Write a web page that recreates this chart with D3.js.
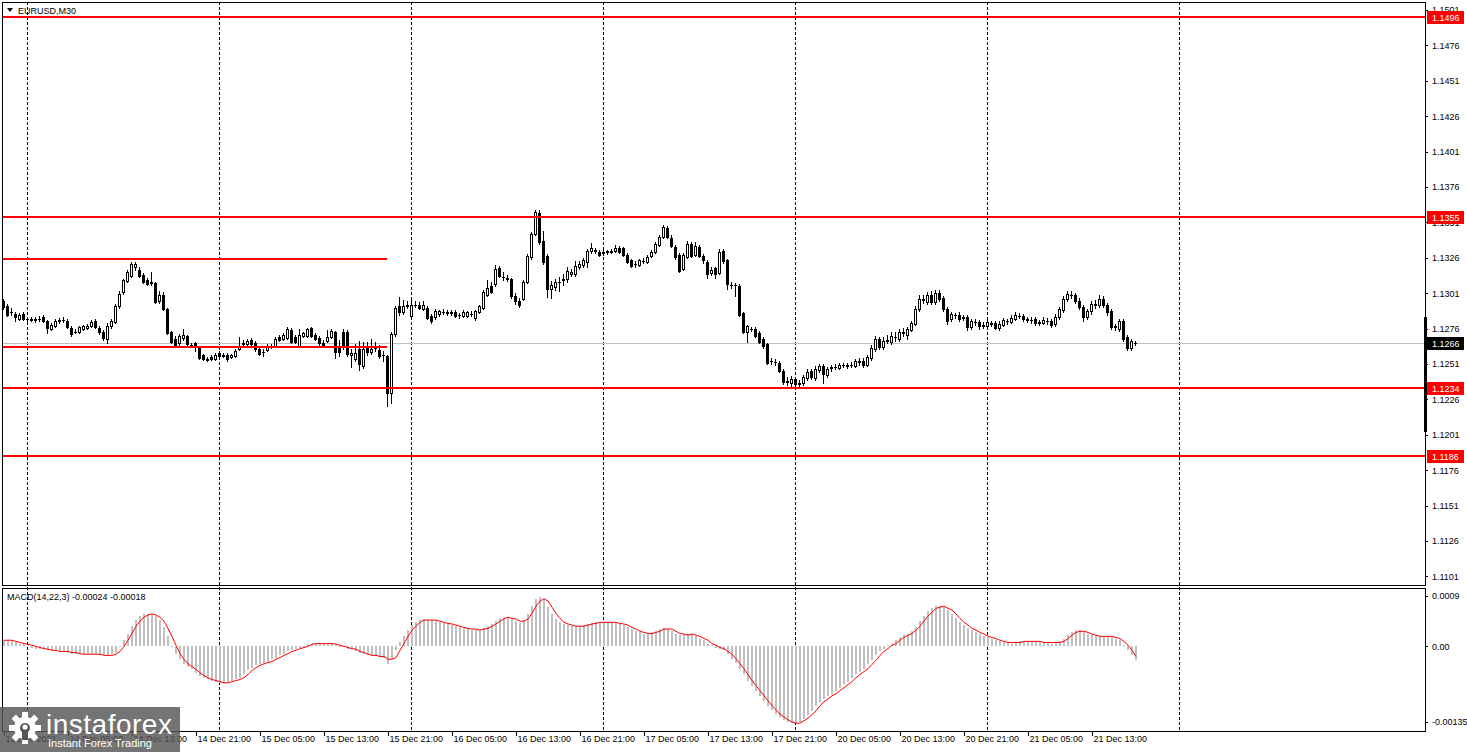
<!DOCTYPE html>
<html><head><meta charset="utf-8">
<script src="https://cdn.jsdelivr.net/npm/d3@7"></script>
<style>html,body{margin:0;padding:0;background:#fff;overflow:hidden}svg{display:block}</style>
</head><body><svg id="c" width="1467" height="752"></svg>
<script>
// ---- DATA (EURUSD M30, 13 Dec 21:00 .. 21 Dec 2021) ----
const open=[1.12957,1.12922,1.12879,1.12865,1.12830,1.12865,1.12830,1.12830,1.12823,1.12830,
1.12844,1.12816,1.12759,1.12780,1.12816,1.12823,1.12816,1.12766,1.12738,1.12738,
1.12759,1.12766,1.12780,1.12816,1.12766,1.12738,1.12689,1.12780,1.12809,1.12922,
1.13020,1.13098,1.13133,1.13197,1.13176,1.13140,1.13105,1.13091,1.13084,1.12957,
1.12999,1.12900,1.12738,1.12689,1.12660,1.12696,1.12710,1.12646,1.12660,1.12625,
1.12576,1.12547,1.12562,1.12547,1.12590,1.12576,1.12576,1.12562,1.12569,1.12618,
1.12653,1.12653,1.12682,1.12660,1.12618,1.12597,1.12611,1.12639,1.12639,1.12703,
1.12689,1.12696,1.12752,1.12703,1.12639,1.12710,1.12710,1.12766,1.12717,1.12696,
1.12660,1.12675,1.12703,1.12738,1.12639,1.12738,1.12738,1.12576,1.12547,1.12618,
1.12498,1.12625,1.12597,1.12625,1.12611,1.12576,1.12569,1.12307,1.12724,1.12922,
1.12879,1.12922,1.12851,1.12929,1.12929,1.12900,1.12907,1.12851,1.12844,1.12865,
1.12879,1.12879,1.12872,1.12879,1.12858,1.12851,1.12851,1.12865,1.12837,1.12879,
1.12907,1.12999,1.13063,1.13077,1.13190,1.13126,1.13119,1.13112,1.12992,1.12957,
1.12971,1.13091,1.13268,1.13430,1.13578,1.13380,1.13275,1.13042,1.13056,1.13091,
1.13105,1.13112,1.13148,1.13148,1.13197,1.13211,1.13232,1.13310,1.13317,1.13303,
1.13296,1.13303,1.13303,1.13310,1.13331,1.13331,1.13282,1.13246,1.13218,1.13211,
1.13239,1.13232,1.13275,1.13303,1.13352,1.13409,1.13472,1.13402,1.13338,1.13282,
1.13183,1.13268,1.13359,1.13282,1.13338,1.13275,1.13232,1.13155,1.13190,1.13155,
1.13310,1.13246,1.13070,1.13070,1.13063,1.12872,1.12738,1.12759,1.12759,1.12731,
1.12689,1.12653,1.12533,1.12526,1.12519,1.12463,1.12385,1.12378,1.12406,1.12371,
1.12378,1.12413,1.12463,1.12413,1.12470,1.12498,1.12434,1.12484,1.12491,1.12484,
1.12505,1.12498,1.12505,1.12498,1.12533,1.12533,1.12505,1.12554,1.12618,1.12689,
1.12632,1.12675,1.12667,1.12703,1.12689,1.12738,1.12717,1.12752,1.12794,1.12900,
1.12971,1.12950,1.12999,1.12950,1.13013,1.12978,1.12900,1.12830,1.12858,1.12858,
1.12837,1.12844,1.12773,1.12809,1.12809,1.12780,1.12780,1.12802,1.12802,1.12766,
1.12787,1.12816,1.12809,1.12830,1.12851,1.12851,1.12830,1.12823,1.12830,1.12802,
1.12802,1.12816,1.12816,1.12794,1.12844,1.12893,1.12971,1.12999,1.12999,1.12957,
1.12915,1.12844,1.12886,1.12936,1.12929,1.12971,1.12929,1.12886,1.12773,1.12759,
1.12816,1.12703,1.12625,1.12660];
const high=[1.12971,1.12936,1.12907,1.12879,1.12872,1.12879,1.12844,1.12844,1.12844,1.12851,
1.12858,1.12823,1.12802,1.12830,1.12837,1.12844,1.12830,1.12780,1.12759,1.12780,
1.12787,1.12794,1.12823,1.12830,1.12780,1.12752,1.12802,1.12830,1.12936,1.13028,
1.13112,1.13176,1.13232,1.13232,1.13197,1.13155,1.13119,1.13162,1.13091,1.13028,
1.13020,1.12907,1.12745,1.12710,1.12724,1.12759,1.12717,1.12660,1.12667,1.12639,
1.12583,1.12562,1.12576,1.12590,1.12604,1.12590,1.12590,1.12583,1.12618,1.12703,
1.12682,1.12689,1.12696,1.12675,1.12625,1.12618,1.12653,1.12653,1.12703,1.12717,
1.12731,1.12773,1.12766,1.12717,1.12759,1.12738,1.12766,1.12773,1.12731,1.12710,
1.12682,1.12752,1.12759,1.12745,1.12682,1.12759,1.12752,1.12618,1.12653,1.12675,
1.12667,1.12667,1.12689,1.12667,1.12646,1.12604,1.12576,1.12738,1.12922,1.12985,
1.12964,1.12957,1.12985,1.12957,1.12950,1.12957,1.12922,1.12865,1.12900,1.12893,
1.12900,1.12893,1.12893,1.12893,1.12872,1.12893,1.12886,1.12886,1.12893,1.12929,
1.13035,1.13105,1.13091,1.13211,1.13204,1.13162,1.13140,1.13119,1.13013,1.12978,
1.13105,1.13289,1.13444,1.13599,1.13599,1.13451,1.13289,1.13098,1.13112,1.13126,
1.13148,1.13197,1.13183,1.13239,1.13239,1.13260,1.13324,1.13366,1.13331,1.13317,
1.13317,1.13317,1.13324,1.13352,1.13345,1.13338,1.13296,1.13253,1.13239,1.13253,
1.13260,1.13282,1.13317,1.13373,1.13423,1.13493,1.13486,1.13423,1.13352,1.13296,
1.13296,1.13380,1.13373,1.13373,1.13352,1.13289,1.13246,1.13197,1.13197,1.13324,
1.13324,1.13253,1.13091,1.13084,1.13077,1.12879,1.12787,1.12773,1.12773,1.12745,
1.12703,1.12660,1.12554,1.12547,1.12533,1.12477,1.12420,1.12427,1.12420,1.12399,
1.12434,1.12477,1.12477,1.12498,1.12512,1.12512,1.12491,1.12505,1.12512,1.12519,
1.12519,1.12519,1.12526,1.12547,1.12554,1.12554,1.12576,1.12646,1.12710,1.12703,
1.12703,1.12717,1.12738,1.12738,1.12759,1.12766,1.12773,1.12816,1.12922,1.12999,
1.12999,1.13020,1.13028,1.13035,1.13035,1.12992,1.12915,1.12879,1.12872,1.12879,
1.12858,1.12858,1.12830,1.12830,1.12823,1.12809,1.12823,1.12816,1.12816,1.12816,
1.12837,1.12830,1.12858,1.12879,1.12872,1.12865,1.12844,1.12844,1.12844,1.12823,
1.12844,1.12837,1.12830,1.12865,1.12915,1.12992,1.13028,1.13028,1.13013,1.12978,
1.12929,1.12900,1.12957,1.12964,1.12999,1.12992,1.12943,1.12900,1.12794,1.12830,
1.12830,1.12717,1.12689,1.12675];
const low=[1.12900,1.12851,1.12858,1.12816,1.12823,1.12823,1.12816,1.12816,1.12809,1.12816,
1.12809,1.12731,1.12752,1.12773,1.12802,1.12809,1.12766,1.12710,1.12731,1.12731,
1.12752,1.12759,1.12773,1.12766,1.12724,1.12682,1.12660,1.12766,1.12802,1.12907,
1.13006,1.13091,1.13126,1.13176,1.13126,1.13084,1.13070,1.13070,1.12943,1.12943,
1.12893,1.12724,1.12660,1.12632,1.12639,1.12682,1.12646,1.12632,1.12604,1.12547,
1.12540,1.12533,1.12540,1.12540,1.12562,1.12562,1.12533,1.12554,1.12562,1.12611,
1.12639,1.12646,1.12646,1.12604,1.12576,1.12569,1.12604,1.12625,1.12632,1.12675,
1.12682,1.12689,1.12660,1.12660,1.12632,1.12703,1.12703,1.12703,1.12682,1.12639,
1.12632,1.12667,1.12696,1.12554,1.12569,1.12618,1.12569,1.12491,1.12533,1.12470,
1.12484,1.12576,1.12583,1.12604,1.12554,1.12533,1.12215,1.12237,1.12710,1.12858,
1.12865,1.12907,1.12844,1.12915,1.12900,1.12893,1.12830,1.12802,1.12830,1.12851,
1.12865,1.12858,1.12858,1.12844,1.12837,1.12844,1.12844,1.12851,1.12823,1.12872,
1.12900,1.12992,1.13013,1.13063,1.13126,1.13105,1.13098,1.12978,1.12936,1.12915,
1.12964,1.13084,1.13253,1.13423,1.13359,1.13218,1.12985,1.12978,1.13035,1.13028,
1.13070,1.13091,1.13133,1.13133,1.13183,1.13197,1.13197,1.13296,1.13296,1.13275,
1.13282,1.13289,1.13296,1.13303,1.13296,1.13275,1.13225,1.13197,1.13197,1.13204,
1.13225,1.13225,1.13268,1.13296,1.13345,1.13402,1.13402,1.13338,1.13253,1.13162,
1.13176,1.13260,1.13268,1.13275,1.13268,1.13225,1.13119,1.13140,1.13119,1.13148,
1.13225,1.13042,1.13049,1.12992,1.12851,1.12731,1.12667,1.12745,1.12703,1.12660,
1.12625,1.12512,1.12512,1.12505,1.12456,1.12371,1.12364,1.12357,1.12357,1.12350,
1.12364,1.12399,1.12406,1.12399,1.12456,1.12378,1.12420,1.12463,1.12477,1.12477,
1.12491,1.12484,1.12491,1.12491,1.12505,1.12491,1.12498,1.12540,1.12604,1.12618,
1.12618,1.12660,1.12653,1.12675,1.12675,1.12710,1.12689,1.12745,1.12787,1.12886,
1.12943,1.12936,1.12936,1.12936,1.12957,1.12886,1.12794,1.12816,1.12837,1.12816,
1.12823,1.12752,1.12759,1.12787,1.12759,1.12766,1.12766,1.12780,1.12759,1.12752,
1.12780,1.12794,1.12802,1.12823,1.12837,1.12816,1.12809,1.12802,1.12787,1.12787,
1.12794,1.12794,1.12773,1.12780,1.12830,1.12879,1.12957,1.12978,1.12943,1.12900,
1.12816,1.12830,1.12865,1.12907,1.12915,1.12915,1.12858,1.12759,1.12752,1.12745,
1.12675,1.12611,1.12611,1.12646];
const close=[1.12915,1.12858,1.12879,1.12844,1.12858,1.12830,1.12830,1.12823,1.12830,1.12830,
1.12816,1.12766,1.12787,1.12816,1.12823,1.12823,1.12773,1.12724,1.12738,1.12773,
1.12780,1.12780,1.12809,1.12773,1.12738,1.12696,1.12780,1.12816,1.12922,1.13006,
1.13105,1.13162,1.13218,1.13218,1.13133,1.13091,1.13077,1.13084,1.12950,1.12999,
1.12900,1.12731,1.12667,1.12639,1.12710,1.12717,1.12653,1.12646,1.12632,1.12554,
1.12547,1.12540,1.12547,1.12576,1.12569,1.12569,1.12547,1.12576,1.12604,1.12639,
1.12660,1.12675,1.12653,1.12618,1.12583,1.12597,1.12632,1.12639,1.12689,1.12682,
1.12717,1.12759,1.12667,1.12667,1.12717,1.12731,1.12759,1.12710,1.12689,1.12660,
1.12639,1.12703,1.12745,1.12597,1.12597,1.12632,1.12583,1.12590,1.12590,1.12512,
1.12618,1.12597,1.12618,1.12625,1.12569,1.12576,1.12307,1.12724,1.12907,1.12879,
1.12922,1.12929,1.12929,1.12929,1.12907,1.12929,1.12837,1.12816,1.12886,1.12886,
1.12879,1.12872,1.12879,1.12851,1.12858,1.12879,1.12879,1.12865,1.12886,1.12922,
1.13020,1.13049,1.13020,1.13183,1.13133,1.13126,1.13112,1.12992,1.12957,1.12929,
1.13091,1.13275,1.13430,1.13585,1.13373,1.13232,1.13042,1.13070,1.13091,1.13091,
1.13112,1.13169,1.13162,1.13204,1.13218,1.13246,1.13310,1.13331,1.13310,1.13282,
1.13303,1.13310,1.13310,1.13331,1.13303,1.13282,1.13232,1.13204,1.13218,1.13246,
1.13239,1.13268,1.13303,1.13359,1.13409,1.13479,1.13409,1.13345,1.13268,1.13169,
1.13282,1.13359,1.13275,1.13345,1.13275,1.13246,1.13148,1.13176,1.13148,1.13303,
1.13239,1.13077,1.13070,1.13070,1.12858,1.12738,1.12780,1.12759,1.12710,1.12667,
1.12639,1.12519,1.12533,1.12526,1.12463,1.12385,1.12392,1.12406,1.12371,1.12378,
1.12420,1.12456,1.12420,1.12477,1.12498,1.12442,1.12477,1.12491,1.12491,1.12505,
1.12505,1.12505,1.12505,1.12533,1.12526,1.12505,1.12562,1.12625,1.12689,1.12632,
1.12675,1.12682,1.12710,1.12703,1.12738,1.12731,1.12759,1.12802,1.12900,1.12971,
1.12964,1.12999,1.12950,1.13013,1.12971,1.12900,1.12816,1.12865,1.12858,1.12830,
1.12844,1.12773,1.12816,1.12809,1.12780,1.12787,1.12809,1.12794,1.12766,1.12794,
1.12823,1.12816,1.12837,1.12858,1.12851,1.12830,1.12823,1.12823,1.12802,1.12809,
1.12823,1.12816,1.12787,1.12844,1.12900,1.12971,1.13006,1.12999,1.12957,1.12915,
1.12844,1.12886,1.12936,1.12929,1.12971,1.12929,1.12879,1.12773,1.12780,1.12816,
1.12689,1.12625,1.12675,1.12660];
// MACD(14,22,3) main (histogram) and signal, in points of 0.00001
const macdMainPts=[11,11,9,7,5,4,2,-2,-4,-4,-5,-7,-7,-9,-9,-9,-11,-13,-13,-14,
-14,-14,-14,-14,-16,-16,-16,-14,-11,0,11,23,36,47,54,58,58,58,54,47,
34,18,0,-14,-23,-31,-36,-41,-47,-52,-56,-59,-61,-63,-65,-65,-63,-61,-58,-56,
-50,-43,-38,-34,-31,-29,-27,-23,-20,-16,-13,-9,-7,-4,-2,0,4,5,5,5,
5,5,4,2,0,0,-4,-5,-9,-11,-14,-16,-16,-18,-18,-20,-31,-22,-7,7,
18,29,38,43,47,49,47,47,45,43,41,40,38,36,34,32,31,29,29,29,
32,36,40,45,50,52,52,49,45,41,47,58,72,85,88,83,70,58,49,43,
40,38,36,36,36,38,40,41,43,43,43,43,43,41,40,38,34,31,27,25,
23,23,25,27,31,32,31,27,23,20,20,22,22,18,14,11,5,2,-2,-4,
-7,-14,-22,-29,-40,-50,-61,-70,-79,-88,-97,-106,-113,-121,-126,-131,-135,-137,-137,-135,
-130,-122,-115,-106,-99,-94,-88,-85,-79,-74,-68,-63,-56,-50,-45,-40,-32,-25,-16,-9,
-4,2,5,11,16,20,23,27,34,45,54,63,68,72,72,70,65,58,50,43,
38,32,29,25,22,18,16,14,11,9,7,7,5,7,9,9,9,9,9,7,
7,7,5,7,9,14,20,25,29,29,25,22,20,18,18,18,18,16,14,11,
2,-7,-16,-24];
const macdSignalPts=[11,11,11,9,7,5,4,2,0,-2,-4,-5,-7,-7,-9,-9,-9,-11,-11,-13,
-14,-14,-14,-14,-14,-16,-16,-16,-14,-9,0,11,23,36,45,52,56,58,56,52,
45,32,18,2,-13,-23,-31,-36,-41,-47,-52,-56,-59,-61,-63,-65,-65,-63,-61,-59,
-56,-50,-43,-38,-34,-31,-29,-27,-23,-20,-16,-13,-9,-7,-4,-2,0,4,5,5,
5,5,5,4,2,0,-2,-4,-5,-9,-11,-14,-16,-16,-18,-18,-23,-23,-20,-7,
5,18,29,36,43,47,47,47,47,45,43,41,40,38,36,34,32,31,31,29,
31,32,36,40,45,49,52,50,49,45,45,49,59,72,81,85,81,70,59,50,
43,40,38,36,36,36,38,40,41,43,43,43,43,43,41,40,38,34,31,27,
25,23,23,25,27,31,31,31,27,23,22,20,22,20,18,14,11,5,2,-2,
-4,-9,-14,-22,-31,-40,-50,-61,-70,-79,-88,-97,-106,-113,-121,-126,-131,-135,-137,-137,
-133,-128,-122,-115,-106,-99,-94,-88,-85,-79,-74,-68,-63,-56,-50,-45,-40,-32,-25,-16,
-9,-4,2,5,11,16,20,23,29,36,45,54,61,68,70,72,68,65,58,50,
43,38,32,29,25,22,18,16,14,11,9,7,7,7,7,9,9,9,9,9,
7,7,7,7,7,9,14,20,25,27,27,25,22,20,18,18,18,18,16,14,
9,2,-7,-18];
const timeLabels=["13 Dec 2021","14 Dec 05:00","14 Dec 13:00","14 Dec 21:00","15 Dec 05:00","15 Dec 13:00","15 Dec 21:00","16 Dec 05:00","16 Dec 13:00","16 Dec 21:00","17 Dec 05:00","17 Dec 13:00","17 Dec 21:00","20 Dec 05:00","20 Dec 13:00","20 Dec 21:00","21 Dec 05:00","21 Dec 13:00"];
const labelBars=[0,16,32,48,64,80,96,112,128,144,160,176,192,208,224,240,256,272];
const dayStartBars=[6,54,102,150,198,246,294];
const priceTicks=[1.1501,1.1476,1.1451,1.1426,1.1401,1.1376,1.1351,1.1326,1.1301,1.1276,1.1251,1.1226,1.1201,1.1176,1.1151,1.1126,1.1101];
const fullLevels=[1.1496,1.1355,1.1234,1.1186];
const shortLevels=[1.1325,1.1263];
const shortLevelEndBar=96;
const lastPrice=1.1266;
const macdTicks=[0.0009,0,-0.00135];
const macdLegend="MACD(14,22,3) -0.00024 -0.00018";
const title="EURUSD,M30";

// ---- DRAW ----
const svg=d3.select("#c");
const FONT="'Liberation Sans', Arial, sans-serif";
const W=1467,H=752, RX=1425, MAIN_T=2, MAIN_B=585, M_T=588, M_B=731;
const x=d3.scaleLinear().domain([-0.75,355.5]).range([0,RX]);
const y=d3.scaleLinear().domain([1.1186,1.1496]).range([456,17]);
const ym=d3.scaleLinear().domain([-0.00135,0.0009]).range([722,596]);
const px=i=>Math.round(x(i));
const py=v=>Math.round(y(v));

svg.append("rect").attr("width",W).attr("height",H).attr("fill","#fff");
svg.append("defs").append("clipPath").attr("id","cm").append("rect").attr("x",2).attr("y",MAIN_T).attr("width",RX-2).attr("height",MAIN_B-MAIN_T);
svg.select("defs").append("clipPath").attr("id","cd").append("rect").attr("x",2).attr("y",M_T).attr("width",RX-2).attr("height",M_B-M_T);

// grid (day separators)
const grid=svg.append("g").attr("shape-rendering","crispEdges");
dayStartBars.forEach(b=>{
  grid.append("line").attr("x1",px(b)+0.5).attr("x2",px(b)+0.5).attr("y1",MAIN_T).attr("y2",M_B)
   .attr("stroke","#000").attr("stroke-width",1).attr("stroke-dasharray","3,2");
});

const main=svg.append("g").attr("clip-path","url(#cm)").attr("shape-rendering","crispEdges");
// last price line
main.append("line").attr("x1",2).attr("x2",RX).attr("y1",py(lastPrice)+0.5).attr("y2",py(lastPrice)+0.5).attr("stroke","#c0c0c0");

// candles
const idx=d3.range(open.length);
const cg=main.append("g");
idx.forEach(i=>{
  const cx=px(i);
  const yh=py(high[i]), yl=py(low[i]), yo=py(open[i]), yc=py(close[i]);
  cg.append("rect").attr("x",cx).attr("y",yh).attr("width",1).attr("height",yl-yh+1).attr("fill","#000");
  const top=Math.min(yo,yc), h=Math.abs(yo-yc);
  cg.append("rect").attr("x",cx-1).attr("y",top).attr("width",3).attr("height",h+1).attr("fill","#000");
  if(close[i]>open[i] && h>=2){
    cg.append("rect").attr("x",cx).attr("y",top+1).attr("width",1).attr("height",h-1).attr("fill","#fff");
  }
});

// level lines
fullLevels.forEach(v=>{
  main.append("rect").attr("x",2).attr("width",RX-2).attr("y",py(v)-1).attr("height",2).attr("fill","#ff0000");
});
shortLevels.forEach(v=>{
  main.append("rect").attr("x",2).attr("width",px(shortLevelEndBar)-2).attr("y",py(v)-1).attr("height",2).attr("fill","#ff0000");
});

// title
svg.append("path").attr("d","M7,8 L13,8 L10,12 Z").attr("fill","#000");
svg.append("text").attr("x",18).attr("y",14).attr("font-family",FONT).attr("font-size","9px").attr("fill","#000").text(title);

// right price axis
const ax=svg.append("g").attr("transform",`translate(${RX},0)`).attr("shape-rendering","crispEdges")
  .call(d3.axisRight(y).tickValues(priceTicks).tickSize(3).tickPadding(4).tickFormat(d3.format(".4f")));
ax.select(".domain").remove();
ax.selectAll("text").attr("font-family",FONT).attr("font-size","9px").attr("fill","#000");
ax.selectAll("line").attr("stroke","#000");

// price labels (boxes)
function priceBox(v,fill){
  const yy=py(v);
  svg.append("rect").attr("x",RX+2).attr("y",yy-6).attr("width",37).attr("height",13).attr("fill",fill);
  svg.append("text").attr("x",RX+7).attr("y",yy+3.5).attr("font-family",FONT).attr("font-size","9px").attr("fill","#fff").text(d3.format(".4f")(v));
}
fullLevels.forEach(v=>priceBox(v,"#ff0000"));
priceBox(lastPrice,"#000");
svg.append("rect").attr("x",RX-1).attr("y",317).attr("width",3).attr("height",115).attr("fill","#000");

// MACD panel
const mg=svg.append("g").attr("clip-path","url(#cd)");
const hg=mg.append("g").attr("shape-rendering","crispEdges");
idx.forEach(i=>{
  const v=macdMainPts[i]/1e5;
  const y0=Math.round(ym(0)), y1=Math.round(ym(v));
  hg.append("rect").attr("x",px(i)).attr("width",2).attr("y",Math.min(y0,y1)).attr("height",Math.max(1,Math.abs(y1-y0))).attr("fill","#c0c0c0");
});
mg.append("path").datum(idx).attr("fill","none").attr("stroke","#ff0000").attr("stroke-width",1)
  .attr("d",d3.line().x(i=>x(i)+1).y(i=>ym(macdSignalPts[i]/1e5)).curve(d3.curveLinear));
svg.append("text").attr("x",7).attr("y",600).attr("font-family",FONT).attr("font-size","9px").attr("fill","#000").text(macdLegend);
const axm=svg.append("g").attr("transform",`translate(${RX},0)`).attr("shape-rendering","crispEdges")
  .call(d3.axisRight(ym).tickValues(macdTicks).tickSize(3).tickPadding(4).tickFormat(d=>d===0?"0.00":(d===0.0009?"0.0009":"-0.00135")));
axm.select(".domain").remove();
axm.selectAll("text").attr("font-family",FONT).attr("font-size","9px").attr("fill","#000");

// frames
const fr=svg.append("g").attr("fill","none").attr("stroke","#000").attr("shape-rendering","crispEdges");
fr.append("rect").attr("x",2.5).attr("y",MAIN_T+0.5).attr("width",RX-2).attr("height",MAIN_B-MAIN_T);
fr.append("rect").attr("x",2.5).attr("y",M_T+0.5).attr("width",RX-2).attr("height",M_B-M_T);

// bottom time axis
const axb=svg.append("g").attr("transform",`translate(0,${M_B+1})`).attr("shape-rendering","crispEdges")
  .call(d3.axisBottom(x).tickValues(labelBars).tickSize(4).tickFormat((d,i)=>timeLabels[i]));
axb.select(".domain").remove();
axb.selectAll("line").attr("transform","translate(0.5,0)").attr("stroke","#000");
axb.selectAll("text").attr("text-anchor","start").attr("x",2).attr("dy","0.5em").attr("y",5)
  .attr("font-family",FONT).attr("font-size","9px").attr("fill","#000");

// watermark logo
const lg=svg.append("g");
lg.append("rect").attr("x",0).attr("y",707).attr("width",180).attr("height",45).attr("fill","#555").attr("opacity",0.82);
const gear=lg.append("g").attr("transform","translate(25,728)");
for(let k=0;k<8;k++){gear.append("rect").attr("x",-3).attr("y",-16).attr("width",6).attr("height",8).attr("fill","#fff").attr("transform",`rotate(${k*45})`);}
gear.append("circle").attr("r",11).attr("fill","#fff");
gear.append("circle").attr("r",5).attr("fill","#555");
gear.append("rect").attr("x",-3).attr("y",-2).attr("width",6).attr("height",14).attr("fill","#555");
gear.append("circle").attr("cy",-1).attr("r",2.6).attr("fill","#fff");
lg.append("text").attr("x",46).attr("y",734).attr("font-family",FONT).attr("font-size","28px").attr("fill","#fff").attr("letter-spacing","0.5").text("instaforex");
lg.append("text").attr("x",48).attr("y",747).attr("font-family",FONT).attr("font-size","11px").attr("fill","#fff").text("Instant Forex Trading");
</script></body></html>
